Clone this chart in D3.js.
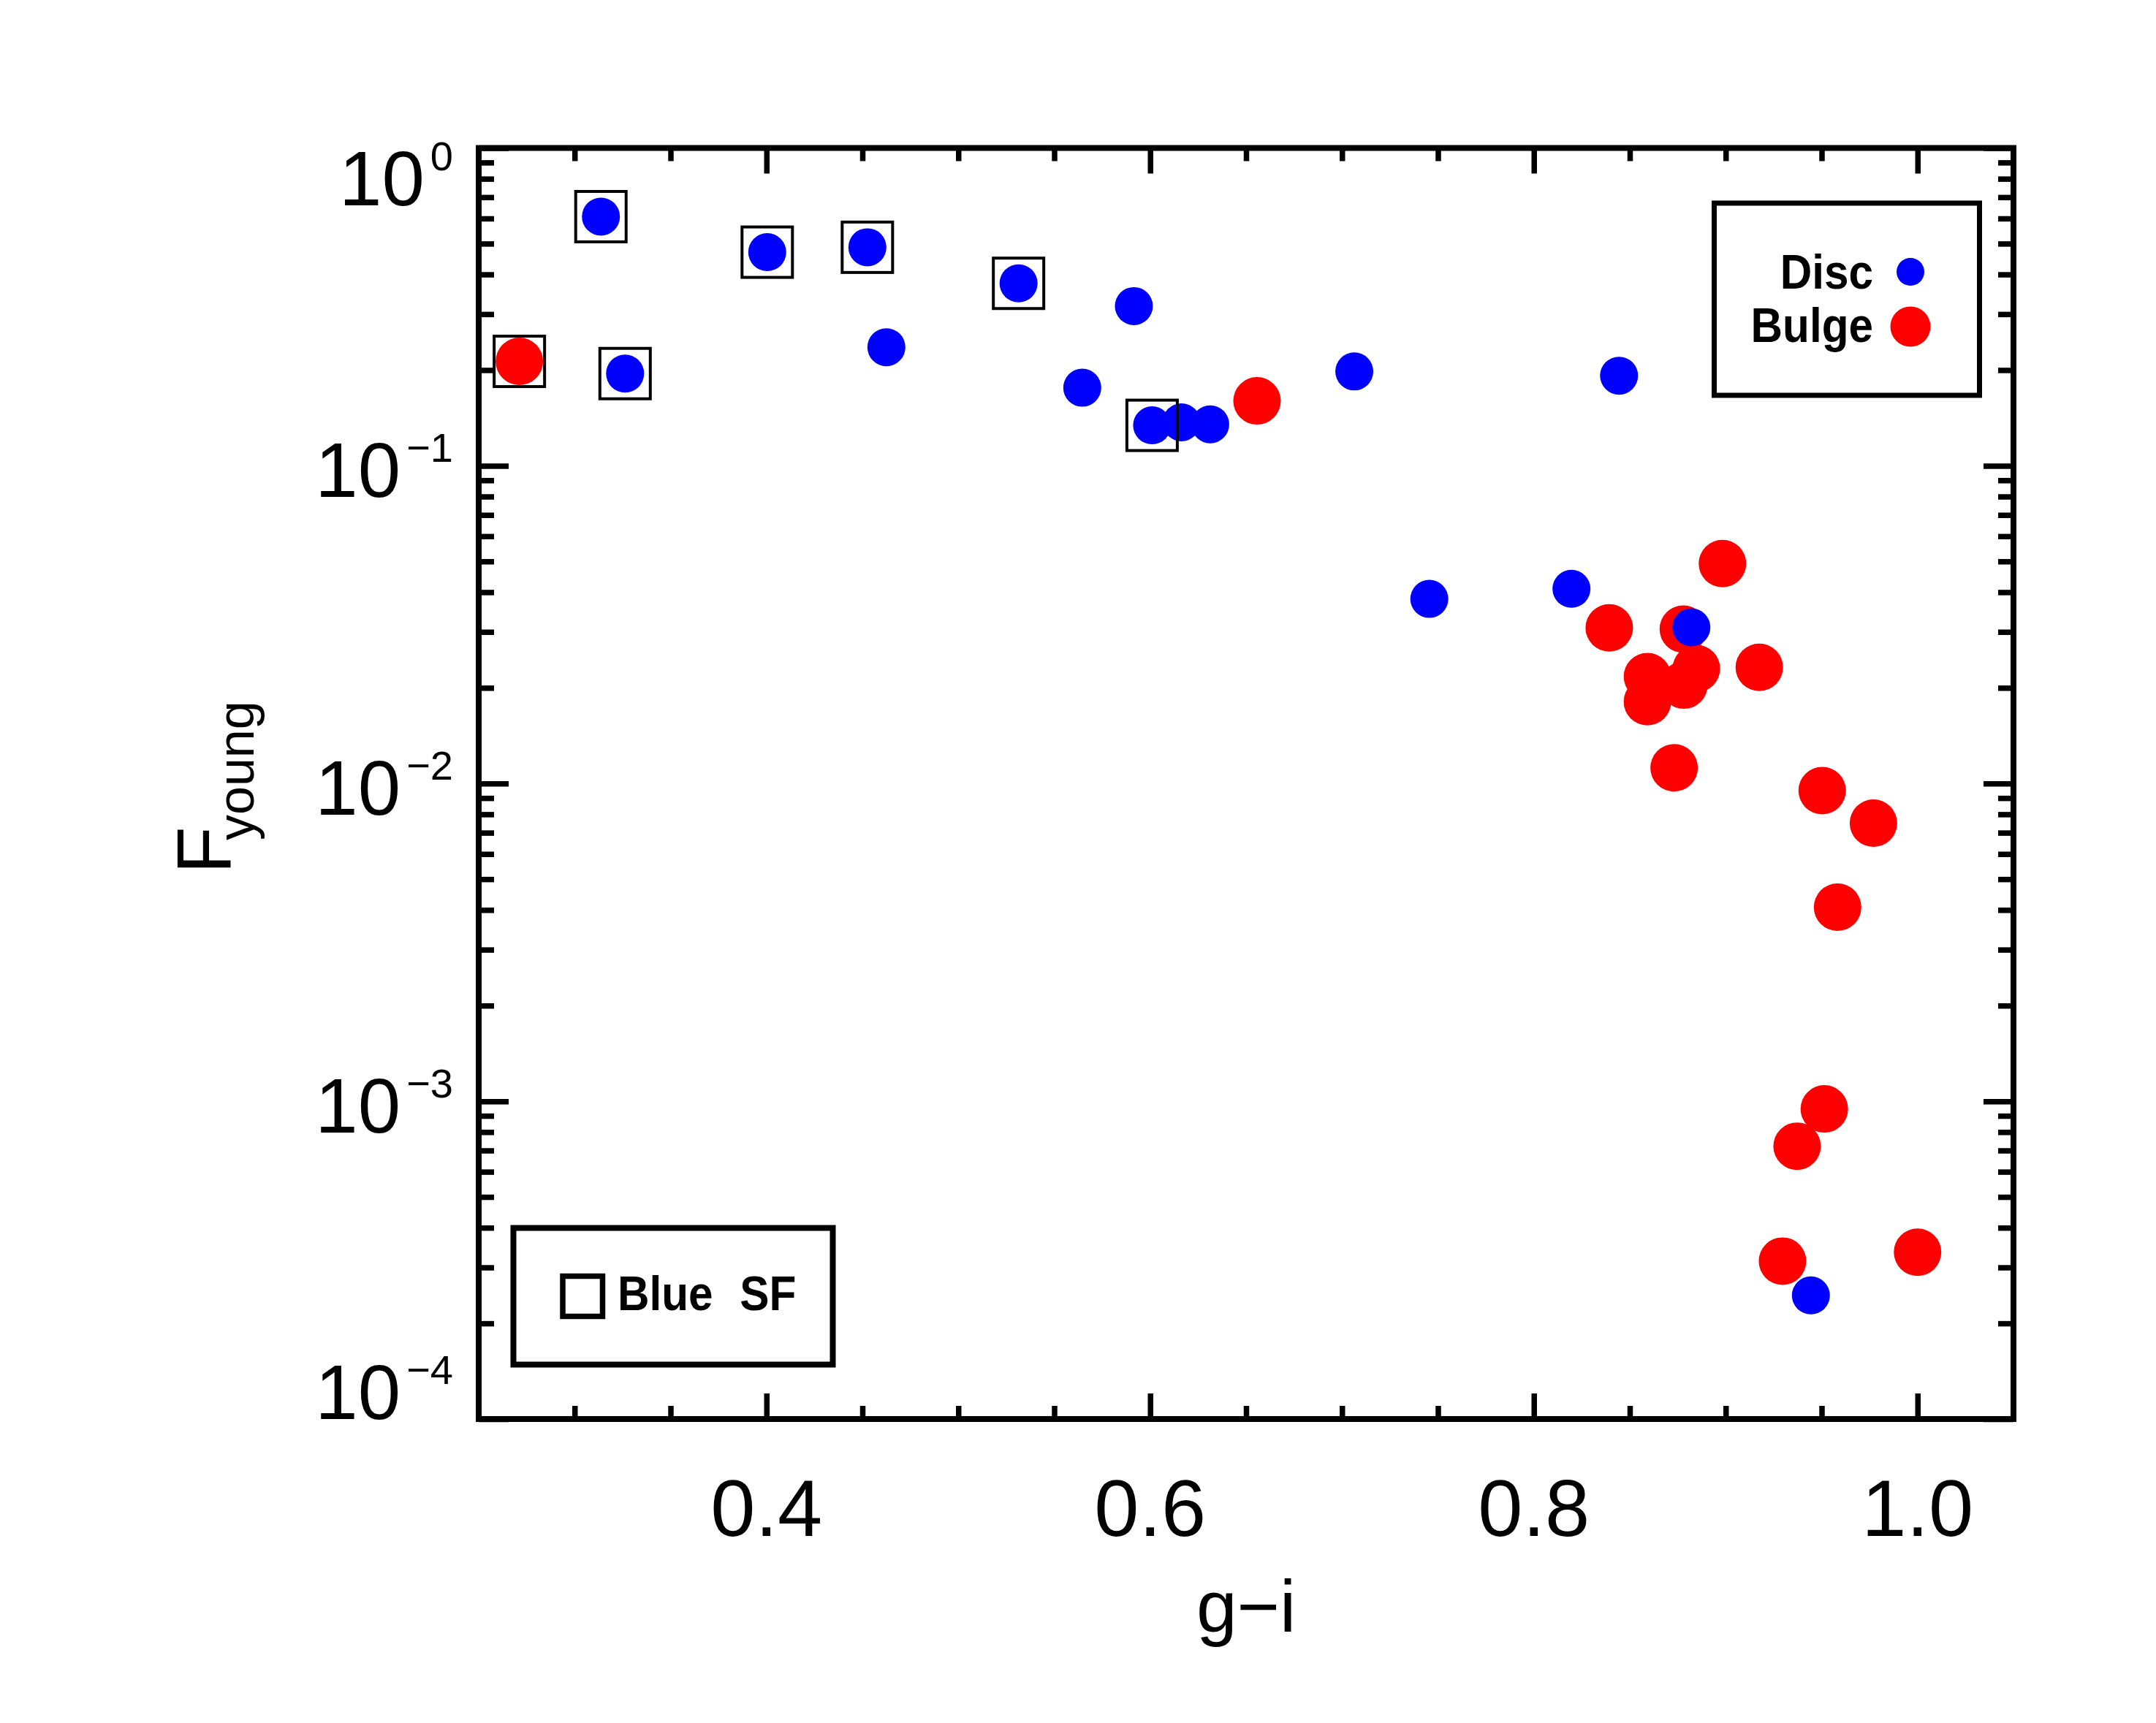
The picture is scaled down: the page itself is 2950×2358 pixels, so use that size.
<!DOCTYPE html>
<html>
<head>
<meta charset="utf-8">
<script src="https://cdn.jsdelivr.net/npm/d3@7"></script>
<style>
  html, body { margin: 0; padding: 0; background: #fff; }
  text { font-family: 'Liberation Sans', Arial, sans-serif; fill: #000; }
</style>
</head>
<body>
<div id="chart"></div>
<script>
// disc components (blue), g-i colour vs F_young
var discX = [0.3137, 0.3263, 0.4004, 0.4526, 0.4625, 0.5314, 0.5646, 0.5915, 0.601, 0.6163,
  0.6313, 0.7064, 0.7455, 0.8196, 0.8444, 0.8821, 0.9444];
var discY = [0.608, 0.195, 0.47, 0.487, 0.236, 0.375, 0.176, 0.318, 0.134, 0.137,
  0.135, 0.198, 0.0381, 0.041, 0.192, 0.031, 0.000245];
var discSF = [1, 1, 1, 1, 0, 1, 0, 0, 1, 0, 0, 0, 0, 0, 0, 0, 0];

// bulge components (red)
var bulgeX = [0.2712, 0.6557, 0.8393, 0.8592, 0.8592, 0.8779, 0.8782, 0.8847, 0.8983, 0.9175,
  0.8731, 0.9503, 0.977, 0.9583, 0.9514, 0.9372, 0.9296, 1.0];
var bulgeY = [0.213, 0.16, 0.0309, 0.0217, 0.0181, 0.0306, 0.0204, 0.023, 0.0492, 0.0232,
  0.0112, 0.0095, 0.0075, 0.00408, 0.000946, 0.000722, 0.000314, 0.000335];
var bulgeSF = [1, 0, 0, 0, 0, 0, 0, 0, 0, 0, 0, 0, 0, 0, 0, 0, 0, 0];

var xMajorTicks = [0.4, 0.6, 0.8, 1.0];
var xMinorTicks = [0.3, 0.35, 0.45, 0.5, 0.55, 0.65, 0.7, 0.75, 0.85, 0.9, 0.95];
var yMajorTicks = [1, 0.1, 0.01, 0.001, 0.0001];
var yExponents = ['0', '\u22121', '\u22122', '\u22123', '\u22124'];

var W = 2950, H = 2358;
var plot = { left: 655, right: 2755, top: 202.5, bottom: 1942 };

var svg = d3.select('#chart').append('svg')
  .attr('width', W)
  .attr('height', H);
svg.append('rect').attr('width', W).attr('height', H).attr('fill', '#fff');

var x = d3.scaleLinear().domain([0.25, 1.05]).range([plot.left, plot.right]);
var y = d3.scaleLog().domain([1e-4, 1]).range([plot.bottom, plot.top]);

// minor y ticks: 2..9 in every decade
var yMinorTicks = [];
yMajorTicks.slice(1).forEach(function (d) {
  d3.range(2, 10).forEach(function (k) { yMinorTicks.push(d * k); });
});

var tickW = 7.5;
function drawAxis(axis, tx, ty) {
  var g = svg.append('g').attr('transform', 'translate(' + tx + ',' + ty + ')').call(axis);
  g.select('.domain').remove();
  g.selectAll('.tick text').remove();
  g.selectAll('.tick line').attr('stroke', '#000').attr('stroke-width', tickW);
}

// ticks point inward on all four sides
drawAxis(d3.axisBottom(x).tickValues(xMajorTicks).tickSize(-35), 0, plot.bottom);
drawAxis(d3.axisBottom(x).tickValues(xMinorTicks).tickSize(-18), 0, plot.bottom);
drawAxis(d3.axisTop(x).tickValues(xMajorTicks).tickSize(-35), 0, plot.top);
drawAxis(d3.axisTop(x).tickValues(xMinorTicks).tickSize(-18), 0, plot.top);
drawAxis(d3.axisLeft(y).tickValues(yMajorTicks).tickSize(-41), plot.left, 0);
drawAxis(d3.axisLeft(y).tickValues(yMinorTicks).tickSize(-21), plot.left, 0);
drawAxis(d3.axisRight(y).tickValues(yMajorTicks).tickSize(-41), plot.right, 0);
drawAxis(d3.axisRight(y).tickValues(yMinorTicks).tickSize(-21), plot.right, 0);

// frame
svg.append('rect')
  .attr('x', plot.left).attr('y', plot.top)
  .attr('width', plot.right - plot.left).attr('height', plot.bottom - plot.top)
  .attr('fill', 'none').attr('stroke', '#000').attr('stroke-width', 8);

// x tick labels
svg.selectAll('.xlab').data(xMajorTicks).enter().append('text')
  .attr('class', 'xlab')
  .attr('x', function (d) { return x(d); })
  .attr('y', 2102)
  .attr('text-anchor', 'middle')
  .style('font-size', '110px')
  .text(d3.format('.1f'));

// y tick labels, 10^n, kept inside the frame height
yMajorTicks.forEach(function (d, i) {
  var base = Math.min(Math.max(y(d) + 43, plot.top + 78), plot.bottom);
  var t = svg.append('text')
    .attr('x', 620).attr('y', base)
    .attr('text-anchor', 'end');
  t.append('tspan').style('font-size', '105px').text('10');
  t.append('tspan').attr('dx', 8).attr('dy', -48).style('font-size', '56px').text(yExponents[i]);
});

// axis titles
svg.append('text')
  .attr('x', (plot.left + plot.right) / 2)
  .attr('y', 2233)
  .attr('text-anchor', 'middle')
  .style('font-size', '100px')
  .text('g\u2212i');

var yt = svg.append('g').attr('transform', 'translate(316,1196) rotate(-90)');
yt.append('text').attr('x', 0).attr('y', 0).style('font-size', '106px').text('F');
yt.append('text').attr('x', 46).attr('y', 31).style('font-size', '70px').text('young');

// points: bulges first, discs on top, then the Blue SF boxes
var bulge = bulgeX.map(function (v, i) { return { x: v, y: bulgeY[i], sf: bulgeSF[i] }; });
var disc = discX.map(function (v, i) { return { x: v, y: discY[i], sf: discSF[i] }; });

svg.append('g').selectAll('circle').data(bulge).enter().append('circle')
  .attr('cx', function (d) { return x(d.x); })
  .attr('cy', function (d) { return y(d.y); })
  .attr('r', 32.5)
  .attr('fill', '#ff0000');

svg.append('g').selectAll('circle').data(disc).enter().append('circle')
  .attr('cx', function (d) { return x(d.x); })
  .attr('cy', function (d) { return y(d.y); })
  .attr('r', 26)
  .attr('fill', '#0000ff');

var boxed = bulge.concat(disc).filter(function (d) { return d.sf; });
var bs = 69;
svg.append('g').selectAll('rect').data(boxed).enter().append('rect')
  .attr('x', function (d) { return x(d.x) - bs / 2; })
  .attr('y', function (d) { return y(d.y) - bs / 2; })
  .attr('width', bs).attr('height', bs)
  .attr('fill', 'none').attr('stroke', '#000').attr('stroke-width', 4);

// legend: Disc / Bulge
var leg = svg.append('g');
leg.append('rect')
  .attr('x', 2345.5).attr('y', 278)
  .attr('width', 363).attr('height', 263)
  .attr('fill', 'none').attr('stroke', '#000').attr('stroke-width', 7);
[['Disc', 395, '#0000ff', 19, 372], ['Bulge', 468, '#ff0000', 27.5, 447]].forEach(function (e) {
  leg.append('g').attr('transform', 'translate(2563,' + e[1] + ') scale(0.9,1)')
    .append('text')
    .attr('text-anchor', 'end')
    .style('font-size', '67px').style('font-weight', 'bold')
    .text(e[0]);
  leg.append('circle').attr('cx', 2614).attr('cy', e[4]).attr('r', e[3]).attr('fill', e[2]);
});

// legend: Blue SF
var leg2 = svg.append('g');
leg2.append('rect')
  .attr('x', 702.5).attr('y', 1680.5)
  .attr('width', 437).attr('height', 187)
  .attr('fill', 'none').attr('stroke', '#000').attr('stroke-width', 8);
leg2.append('rect')
  .attr('x', 770).attr('y', 1746.5)
  .attr('width', 54.5).attr('height', 55)
  .attr('fill', 'none').attr('stroke', '#000').attr('stroke-width', 7.5);
leg2.append('g').attr('transform', 'translate(845,1793) scale(0.9,1)')
  .append('text')
  .style('font-size', '67px').style('font-weight', 'bold')
  .style('word-spacing', '22px')
  .text('Blue SF');
</script>
</body>
</html>
